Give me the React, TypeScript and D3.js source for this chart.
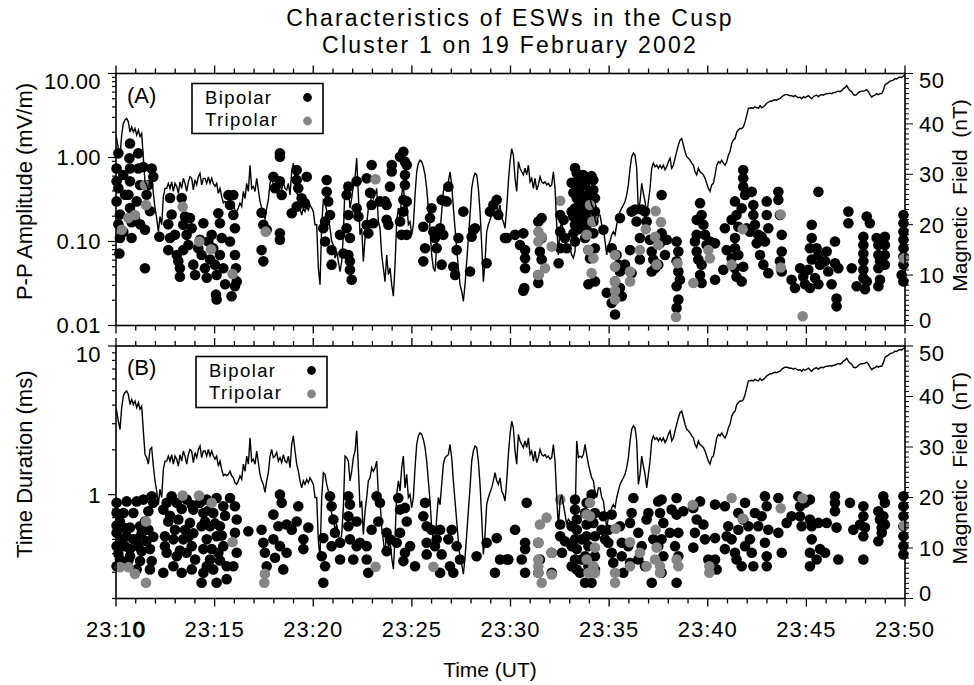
import React from "react";
import * as d3 from "d3";

// ---------- axis labels ----------
const timeTickMinutes = [0, 5, 10, 15, 20, 25, 30, 35, 40]; // minutes after 23:10
const timeTickLabels = ["23:10", "23:15", "23:20", "23:25", "23:30", "23:35", "23:40", "23:45", "23:50"];
const ampTickValues = [10, 1, 0.1, 0.01];
const ampTickLabels = ["10.00", "1.00", "0.10", "0.01"];
const durTickValues = [10, 1];
const durTickLabels = ["10", "1"];
const fieldTickValues = [0, 10, 20, 30, 40, 50];

// ---------- magnetic field (nT), fixed cadence ----------
const fieldStartMin = -0.05;
const fieldCadenceSec = 5.07;
const fieldNT = [
  38.1, 37.1, 35.1, 33.5, 37.8, 40.1, 40.8, 41.1, 40.4, 38.4,
  39.4, 38.4, 39.1, 37.8, 38.8, 37.5, 38.1, 33.2, 28.5, 27.9,
  26.6, 29.5, 29.9, 26.2, 23.3, 21.3, 18.6, 21.6, 20.0, 25.6,
  27.2, 27.2, 28.2, 27.2, 28.5, 26.6, 28.2, 27.6, 26.2, 28.5,
  27.2, 29.2, 28.2, 26.6, 28.5, 29.5, 29.2, 26.9, 28.9, 27.9,
  29.5, 30.2, 27.9, 29.2, 29.2, 28.2, 29.5, 28.2, 29.2, 28.2,
  27.6, 28.2, 26.2, 27.2, 25.6, 24.3, 24.6, 24.3, 24.6, 25.2,
  24.3, 23.9, 22.9, 22.6, 23.3, 24.3, 23.6, 26.6, 25.2, 28.2,
  26.6, 31.8, 27.2, 27.6, 26.6, 29.2, 26.9, 24.6, 23.3, 22.6,
  21.0, 23.3, 24.9, 28.2, 29.5, 27.9, 28.2, 28.9, 27.2, 27.9,
  26.9, 28.5, 27.2, 26.9, 28.2, 25.9, 30.5, 32.2, 29.2, 26.6,
  25.2, 23.3, 21.9, 23.3, 22.6, 23.6, 22.9, 23.9, 23.3, 22.6,
  20.0, 20.0, 11.4, 8.1, 20.0, 24.9, 24.6, 22.6, 21.3, 19.3,
  16.7, 16.0, 13.4, 14.7, 12.7, 10.7, 12.7, 18.0, 28.2, 27.9,
  27.2, 23.3, 25.2, 27.9, 29.2, 33.2, 25.9, 18.0, 19.3, 12.7,
  17.3, 20.0, 23.3, 23.9, 25.9, 25.2, 25.9, 27.2, 20.6, 19.3,
  14.0, 11.4, 8.7, 14.0, 10.1, 11.4, 8.1, 5.8, 12.0, 20.6,
  23.3, 21.3, 25.9, 28.2, 21.9, 24.6, 20.0, 20.6, 18.0, 20.0,
  25.9, 30.5, 32.2, 32.8, 32.5, 31.5, 29.9, 27.2, 23.3, 19.3,
  14.0, 11.4, 10.7, 16.0, 20.0, 18.6, 22.6, 26.6, 27.9, 28.2,
  28.5, 30.5, 27.9, 23.3, 19.3, 15.3, 11.4, 8.1, 6.8, 4.8,
  8.1, 12.7, 17.3, 21.9, 27.2, 29.2, 30.2, 29.9, 27.2, 22.6,
  16.0, 8.7, 12.7, 18.6, 20.0, 21.0, 21.9, 23.3, 24.9, 23.3,
  22.6, 23.9, 21.3, 20.6,
  19.3, 23.3, 28.5, 32.5, 35.1, 33.8, 29.2, 26.6, 32.5, 31.2,
  30.5, 29.9, 31.2, 29.9, 31.8, 28.5, 29.2, 27.2, 29.2, 26.9,
  27.9, 29.5, 28.5, 28.2, 28.5, 27.9, 28.2, 27.6, 27.9, 30.5,
  27.2, 20.0, 14.0, 19.3, 20.6, 18.6, 16.7, 14.7, 15.7, 15.3,
  14.0, 13.4, 14.7, 31.2, 27.9, 28.2, 27.9, 28.5, 30.5, 28.5,
  26.6, 25.2, 23.9, 23.3, 21.0, 20.0, 21.9, 21.9, 20.0, 19.3,
  16.7, 14.0, 16.0, 16.7, 18.0, 18.6, 18.0, 20.0, 21.3, 22.6,
  23.3, 23.9, 24.6, 25.9, 27.9, 31.2, 33.5, 34.2, 33.8, 31.2,
  22.6, 24.6, 28.2, 26.2, 24.6, 21.9, 24.6, 27.2, 31.2, 32.2,
  31.5, 31.8, 31.2, 31.8, 31.2, 31.8, 30.9, 31.5, 32.5, 33.2,
  31.2, 31.8, 33.2, 34.5, 35.8, 36.8, 37.1, 35.8, 34.5, 33.5,
  33.2, 32.8, 32.2, 31.8, 30.5, 29.9, 31.2, 30.5, 30.2, 29.9,
  29.2, 28.2, 27.2, 26.6, 27.9, 28.2, 29.9, 31.8, 32.5, 32.2,
  32.8, 32.2, 31.8, 32.5, 33.8, 34.5, 36.1, 36.8, 37.1, 38.4,
  38.8, 39.1, 39.1, 39.4, 40.4, 41.7, 43.1, 43.1, 43.2, 43.1,
  43.4, 43.2, 43.1, 43.6, 43.2, 43.4, 43.7, 44.1, 44.3, 44.5,
  44.5, 44.7, 44.8, 44.7, 44.9, 45.0, 45.4, 45.6, 45.8, 45.8,
  45.7, 45.6, 45.6, 45.4, 45.6, 45.4, 45.2, 45.3, 45.0, 45.4,
  45.2, 45.4, 45.6, 45.3, 45.0, 45.4, 45.6, 45.7, 45.4, 45.7,
  45.8, 45.7, 45.9, 46.0, 46.0, 46.1, 46.0, 46.2, 46.2, 46.4,
  46.5, 46.4, 46.6, 47.0, 47.2, 47.6, 47.0, 46.6, 46.4, 45.8,
  45.7, 45.8, 46.2, 46.4, 46.5, 46.5, 46.6, 46.8, 46.4, 45.8,
  45.3, 45.6, 45.7, 46.0, 45.8, 46.0, 46.0, 46.7, 47.8, 48.0,
  48.2, 48.5, 48.6, 48.7, 49.0, 48.9, 49.2, 49.3, 49.2, 49.5,
  49.7,
];

// ---------- Panel A: peak-to-peak amplitude (mV/m) [minutes after 23:10, value] ----------
const ampBipolar = [
  [0.12, 1.12], [0.03, 0.74], [0.03, 0.52], [0.12, 0.43], [0.03, 0.30], [0.20, 0.21], [0.12, 0.16], [0.20, 0.11],
  [0.17, 0.072], [0.37, 0.62], [0.46, 0.36], [0.37, 0.13], [0.71, 1.47], [0.68, 0.98], [1.13, 1.12], [0.71, 0.74],
  [0.71, 0.52], [0.63, 0.36], [0.71, 0.25], [0.79, 0.17], [0.79, 0.11], [1.13, 0.74], [1.22, 0.47], [1.05, 0.30],
  [0.96, 0.19], [1.22, 0.16], [1.39, 0.77], [1.81, 0.74], [1.64, 0.47], [1.89, 0.59], [1.55, 0.36], [1.72, 0.23],
  [1.47, 0.138], [1.47, 0.048], [2.20, 0.114], [2.74, 0.33], [2.82, 0.21], [2.65, 0.16], [2.74, 0.11], [2.65, 0.079],
  [2.99, 0.12], [3.08, 0.069], [3.16, 0.058], [3.24, 0.048], [3.24, 0.038], [3.33, 0.33], [3.50, 0.198], [3.41, 0.158],
  [3.58, 0.12], [3.67, 0.091], [3.41, 0.079], [3.75, 0.19], [3.84, 0.144], [3.92, 0.053], [4.01, 0.040], [4.17, 0.083],
  [4.26, 0.105], [4.34, 0.069], [4.43, 0.165], [4.51, 0.048], [4.60, 0.037], [4.77, 0.061], [4.68, 0.10], [4.85, 0.12],
  [4.93, 0.083], [5.02, 0.053], [5.10, 0.040], [5.07, 0.0233], [5.10, 0.0204], [5.19, 0.217], [5.27, 0.165], [5.36, 0.11],
  [5.27, 0.069], [5.44, 0.048], [5.53, 0.031], [5.70, 0.358], [5.95, 0.358], [5.78, 0.272], [5.95, 0.207], [6.03, 0.144],
  [5.78, 0.10], [6.03, 0.069], [6.08, 0.048], [6.12, 0.0335], [6.03, 0.0293], [5.86, 0.0223], [7.38, 0.22], [7.47, 0.158],
  [7.38, 0.079], [7.47, 0.058], [7.64, 0.138], [8.31, 1.12], [8.31, 1.02], [7.98, 0.59], [8.06, 0.43], [8.31, 0.52],
  [8.40, 0.358], [8.31, 0.125], [8.31, 0.105], [8.91, 0.217], [9.16, 0.71], [9.16, 0.54], [9.24, 0.43], [9.41, 0.327],
  [9.58, 0.286], [9.67, 0.59], [9.16, 0.26], [10.68, 0.54], [10.68, 0.39], [10.76, 0.30], [10.85, 0.207], [10.60, 0.173],
  [10.51, 0.144], [10.60, 0.10], [10.93, 0.079], [10.93, 0.053], [11.53, 0.072], [11.36, 0.12], [11.78, 0.45], [11.69, 0.358],
  [11.78, 0.207], [11.69, 0.144], [11.86, 0.11], [11.78, 0.069], [11.86, 0.058], [11.86, 0.046], [11.95, 0.035], [12.20, 0.52],
  [12.29, 0.198], [12.20, 0.249], [12.71, 0.565], [12.88, 0.38], [12.96, 0.815], [12.71, 0.158], [12.79, 0.125], [12.96, 0.272],
  [13.05, 0.165], [13.38, 0.30], [13.64, 0.30], [13.72, 0.181], [13.81, 0.158], [13.98, 0.815], [13.98, 0.68], [13.89, 0.45],
  [13.72, 0.272], [14.40, 0.173], [14.48, 0.12], [14.40, 1.02], [14.57, 1.17], [14.65, 0.89], [14.65, 0.62], [14.74, 0.815],
  [14.65, 0.47], [14.57, 0.313], [14.74, 0.30], [14.57, 0.227], [14.74, 0.12], [15.58, 0.15], [15.67, 0.083], [15.58, 0.058],
  [15.92, 0.19], [16.00, 0.249], [16.09, 0.131], [16.17, 0.11], [16.26, 0.083], [16.43, 0.144], [16.51, 0.053], [16.51, 0.313],
  [16.76, 0.30], [16.85, 0.45], [16.59, 0.12], [17.27, 0.079], [17.36, 0.11], [17.10, 0.050], [17.19, 0.040], [17.61, 0.227],
  [17.95, 0.044], [18.03, 0.114], [18.12, 0.138], [18.20, 0.144], [18.79, 0.055], [18.96, 0.227], [19.13, 0.272], [19.30, 0.313],
  [19.38, 0.207], [19.72, 0.11],
  [19.81, 0.11], [20.23, 0.12], [20.48, 0.091], [20.65, 0.125], [20.74, 0.079], [20.74, 0.063], [20.74, 0.048], [20.70, 0.028],
  [20.65, 0.026], [21.41, 0.173], [21.58, 0.19], [21.58, 0.11], [21.49, 0.076], [21.58, 0.061], [21.41, 0.040], [21.41, 0.032],
  [22.52, 0.207], [22.69, 0.181], [22.52, 0.131], [22.76, 0.11], [22.52, 0.083], [22.44, 0.055], [22.85, 0.083], [23.36, 0.65],
  [23.36, 0.516], [23.36, 0.41], [23.36, 0.327], [23.27, 0.249], [23.19, 0.198], [23.27, 0.158], [23.19, 0.125], [23.27, 0.10],
  [23.52, 0.565], [23.69, 0.62], [23.78, 0.47], [23.86, 0.30], [23.78, 0.227], [23.69, 0.173], [23.86, 0.138], [23.78, 0.11],
  [23.95, 0.079], [24.03, 0.063], [24.20, 0.54], [24.20, 0.41], [24.28, 0.327], [24.28, 0.227], [24.20, 0.173], [24.28, 0.083],
  [24.28, 0.0335], [23.95, 0.031], [23.10, 0.227], [23.52, 0.30], [23.61, 0.158], [23.10, 0.50], [23.19, 0.38], [23.44, 0.45],
  [23.61, 0.36], [23.95, 0.55], [24.03, 0.40], [24.11, 0.26], [23.52, 0.20], [23.86, 0.19], [24.20, 0.125], [23.44, 0.14],
  [24.03, 0.33], [23.69, 0.25], [23.27, 0.75], [24.11, 0.60], [24.71, 0.138], [24.88, 0.0245], [25.13, 0.0185],
  [25.30, 0.0135], [25.13, 0.083], [25.38, 0.069], [25.47, 0.053], [25.30, 0.0335], [25.55, 0.044], [25.55, 0.028], [25.64, 0.0223],
  [25.55, 0.19], [25.80, 0.053], [26.06, 0.079], [26.14, 0.227], [26.31, 0.24], [26.39, 0.173], [26.65, 0.24], [26.56, 0.11],
  [26.56, 0.061], [26.14, 0.042], [26.82, 0.227], [26.90, 0.173], [27.07, 0.105], [27.16, 0.076], [27.24, 0.061], [27.33, 0.048],
  [27.49, 0.053], [27.66, 0.358], [27.58, 0.095], [27.66, 0.125], [27.83, 0.069], [27.92, 0.105], [27.16, 0.044], [28.42, 0.10],
  [28.51, 0.076], [28.42, 0.058], [28.51, 0.044], [28.59, 0.035], [28.42, 0.0293], [28.51, 0.0204], [28.42, 0.0162], [29.44, 0.181],
  [29.44, 0.12], [29.61, 0.286], [29.69, 0.207], [29.78, 0.158], [29.35, 0.10], [29.44, 0.076], [29.69, 0.053], [29.61, 0.040],
  [29.69, 0.032], [29.52, 0.061], [29.86, 0.12], [29.94, 0.091], [30.11, 0.10], [30.37, 0.095], [30.37, 0.035], [30.79, 0.046],
  [30.87, 0.144], [30.96, 0.079], [31.21, 0.181], [31.38, 0.30], [31.46, 0.207], [31.55, 0.15], [31.72, 0.249], [31.80, 0.71],
  [31.80, 0.565], [31.80, 0.45], [31.89, 0.358], [31.38, 0.11], [31.38, 0.083], [31.55, 0.069], [31.21, 0.063], [31.38, 0.048],
  [31.46, 0.038], [31.72, 0.0335], [31.80, 0.050], [32.23, 0.39], [32.31, 0.272], [32.31, 0.207], [32.39, 0.158], [32.56, 0.12],
  [32.48, 0.095], [32.65, 0.069], [32.82, 0.053], [32.90, 0.10], [32.99, 0.30], [32.99, 0.207], [33.07, 0.144], [32.73, 0.114],
  [33.07, 0.042], [31.97, 0.144], [32.14, 0.131], [33.58, 0.39], [33.58, 0.313], [33.66, 0.207], [33.75, 0.12], [33.75, 0.076],
  [33.66, 0.058], [33.75, 0.044], [34.25, 0.035], [34.42, 0.028], [35.61, 0.39], [34.68, 0.048], [34.84, 0.038], [34.93, 0.031],
  [35.10, 0.046], [35.27, 0.158], [35.27, 0.11], [35.18, 0.083], [35.27, 0.061], [35.52, 0.083], [35.61, 0.069], [35.69, 0.053],
  [35.44, 0.0367], [35.61, 0.031], [35.95, 0.058], [36.03, 0.076], [36.11, 0.044], [36.45, 0.10], [36.45, 0.055], [36.28, 0.031],
  [36.53, 0.021], [36.53, 0.0169], [36.62, 0.048], [35.18, 0.028], [37.13, 0.227], [37.13, 0.165], [37.30, 0.048], [37.55, 0.0293],
  [37.89, 0.114], [37.89, 0.091], [37.89, 0.072], [37.89, 0.058], [37.89, 0.046], [37.89, 0.0367], [37.97, 0.027], [38.06, 0.198],
  [38.22, 0.165], [38.06, 0.0335], [38.56, 0.11], [38.65, 0.091], [38.65, 0.069], [38.73, 0.058], [38.65, 0.048], [38.73, 0.035],
  [38.65, 0.0293], [38.98, 0.114], [38.98, 0.091], [38.98, 0.069], [38.98, 0.053], [39.92, 0.207], [39.92, 0.165], [39.92, 0.131],
  [39.92, 0.105], [39.92, 0.083], [39.92, 0.066], [39.92, 0.053], [39.83, 0.040], [39.92, 0.0335],
];

const ampTripolar = [
  [0.29, 0.138], [0.63, 0.19], [0.96, 0.207], [1.47, 0.47], [1.52, 0.272], [3.38, 0.26], [4.22, 0.10], [4.82, 0.081],
  [5.91, 0.041], [7.59, 0.131], [13.16, 0.55], [21.41, 0.131], [21.58, 0.114], [21.41, 0.10], [21.75, 0.048], [21.41, 0.040],
  [22.09, 0.087], [22.52, 0.305], [24.03, 0.272], [24.15, 0.173], [23.86, 0.12], [23.95, 0.079], [24.20, 0.063], [24.11, 0.042],
  [25.30, 0.069], [25.30, 0.050], [25.30, 0.0335], [25.30, 0.026], [25.30, 0.0204], [26.06, 0.044], [26.06, 0.0335], [26.56, 0.079],
  [27.36, 0.23], [27.63, 0.17], [26.86, 0.14], [27.33, 0.114], [27.49, 0.091], [27.41, 0.053], [28.47, 0.055], [28.39, 0.0126],
  [29.27, 0.032], [30.03, 0.079], [30.11, 0.063], [31.21, 0.053], [31.77, 0.14], [33.70, 0.21], [33.70, 0.049], [34.81, 0.0129],
  [39.95, 0.063],
];

// ---------- Panel B: time duration (ms) [minutes after 23:10, value] ----------
const durBipolar = [
  [0.03, 0.88], [0.54, 0.90], [1.05, 0.90], [1.39, 0.926], [1.81, 0.975], [0.37, 0.753], [0.88, 0.753], [1.64, 0.773],
  [0.20, 0.66], [0.71, 0.60], [1.22, 0.613], [0.03, 0.553], [0.54, 0.525], [1.05, 0.50], [1.55, 0.486], [0.20, 0.45],
  [0.71, 0.43], [1.30, 0.416], [1.72, 0.43], [0.20, 0.366], [0.71, 0.385], [1.22, 0.357], [1.81, 0.357], [1.05, 0.314],
  [1.72, 0.314], [0.03, 0.753], [0.03, 0.45], [0.03, 0.33], [0.37, 0.60], [0.46, 0.45], [0.88, 0.50], [1.13, 0.45],
  [1.47, 0.66], [0.29, 0.50], [0.63, 0.36], [1.30, 0.55], [1.64, 0.58], [0.03, 0.62], [0.12, 0.40], [1.89, 0.52],
  [1.89, 0.88], [2.40, 0.793], [2.82, 0.975], [3.08, 0.88], [3.58, 0.926],
  [3.92, 0.793], [2.65, 0.66], [3.16, 0.68], [3.75, 0.645], [2.48, 0.525], [2.91, 0.50], [3.41, 0.50], [3.84, 0.45],
  [2.57, 0.406], [3.08, 0.385], [3.58, 0.406], [4.01, 0.366], [2.40, 0.298], [2.91, 0.33], [3.33, 0.298], [3.84, 0.314],
  [2.57, 0.88], [2.74, 0.72], [3.33, 0.80], [3.50, 0.58], [3.67, 0.52], [2.99, 0.58], [3.84, 0.85], [2.48, 0.45],
  [3.24, 0.42], [3.92, 0.55], [4.51, 0.66], [4.68, 0.78], [5.02, 0.64], [5.36, 0.53], [4.85, 0.43], [5.27, 0.36],
  [4.60, 0.33], [5.53, 0.72], [5.78, 0.95],
  [4.26, 0.88], [4.60, 0.926], [5.10, 0.95], [4.43, 0.753], [4.93, 0.753], [5.44, 0.835], [4.34, 0.613], [4.77, 0.613],
  [5.27, 0.613], [4.60, 0.50], [5.10, 0.525], [5.44, 0.45], [4.43, 0.43], [4.77, 0.366], [5.19, 0.406], [4.43, 0.298],
  [4.93, 0.314], [5.61, 0.33], [4.34, 0.255], [5.10, 0.255], [5.61, 0.27], [6.03, 0.835], [6.12, 0.68], [6.03, 0.553],
  [6.12, 0.406], [5.95, 0.33], [6.71, 0.567], [7.38, 0.58], [7.47, 0.474], [7.55, 0.406], [7.64, 0.33], [8.31, 1.0],
  [8.40, 0.88], [7.98, 0.734], [8.23, 0.613], [8.65, 0.63], [7.98, 0.50], [8.31, 0.45], [8.06, 0.376], [8.48, 0.314],
  [8.91, 0.58], [9.24, 0.835], [9.16, 0.66], [9.50, 0.50], [9.75, 0.60], [9.50, 0.43], [8.65, 0.406], [10.51, 0.51],
  [10.43, 0.385], [10.60, 0.33], [10.51, 0.255], [10.85, 0.975], [10.93, 0.835], [11.02, 0.68], [11.10, 0.553], [10.93, 0.45],
  [11.36, 0.366], [11.36, 0.474], [11.78, 0.975], [11.86, 0.857], [11.78, 0.715], [12.20, 0.66], [11.78, 0.613], [11.86, 0.50],
  [12.20, 0.45], [12.03, 0.366], [12.71, 0.45], [12.71, 0.366], [12.79, 0.298], [12.37, 0.474], [13.21, 0.975], [13.38, 0.88],
  [13.30, 0.66], [12.96, 0.58], [13.72, 0.553], [13.89, 0.50], [13.72, 0.416], [14.31, 0.95], [14.40, 0.793], [14.65, 0.814],
  [14.74, 0.66], [14.40, 0.553], [14.23, 0.474], [14.65, 0.406], [14.57, 0.357], [14.91, 0.45], [15.16, 0.33], [15.67, 0.88],
  [15.58, 0.715], [15.75, 0.613], [16.00, 0.58], [16.17, 0.45], [15.75, 0.474], [16.43, 0.58], [16.26, 0.50], [16.51, 0.396],
  [17.02, 0.58], [16.85, 0.50], [17.27, 0.45], [17.44, 0.366], [16.93, 0.33], [16.43, 0.298], [17.10, 0.298], [15.75, 0.396],
  [18.28, 0.385], [18.79, 0.474], [19.30, 0.51], [19.47, 0.366], [19.21, 0.298], [19.81, 0.366],
  [19.89, 0.366], [20.23, 0.58], [20.57, 0.366], [20.74, 0.474], [20.74, 0.43], [20.74, 0.298], [20.82, 0.88], [21.41, 0.474],
  [21.49, 0.366], [21.41, 0.298], [22.09, 0.298], [22.09, 0.406], [22.52, 0.63], [22.52, 0.525], [22.76, 0.486], [22.61, 0.406],
  [23.27, 0.926], [23.27, 0.793], [23.36, 0.68], [23.36, 0.58], [23.27, 0.50], [23.36, 0.43], [23.27, 0.366], [23.36, 0.314],
  [23.52, 0.298], [23.78, 0.255], [23.86, 0.88], [23.78, 0.753], [23.86, 0.63], [23.86, 0.525], [23.95, 0.45], [23.78, 0.385],
  [23.95, 0.33], [24.11, 1.0], [24.28, 0.753], [24.20, 0.645], [24.28, 0.525], [24.28, 0.385], [24.28, 0.314], [24.11, 0.255],
  [24.71, 0.715], [24.62, 0.58], [24.79, 0.50], [23.10, 0.613], [23.10, 0.45], [23.10, 0.33], [23.61, 0.50], [23.61, 0.366],
  [25.13, 0.734], [24.96, 0.58], [24.96, 0.474], [25.13, 0.406], [25.21, 0.348], [25.55, 0.613], [25.64, 0.474], [25.64, 0.385],
  [25.72, 0.298], [26.06, 0.645], [26.14, 0.753], [26.23, 0.95], [25.97, 0.45], [26.06, 0.348], [26.48, 0.553], [26.65, 0.45],
  [26.48, 0.366], [26.82, 0.33], [26.90, 0.68], [26.99, 0.753], [27.24, 0.50], [27.49, 0.45], [27.49, 0.90], [27.66, 0.926],
  [27.58, 0.753], [27.75, 0.645], [27.66, 0.50], [27.75, 0.385], [27.66, 0.298], [27.16, 0.255], [28.17, 0.793], [28.42, 0.95],
  [28.42, 0.734], [28.51, 0.553], [28.34, 0.45], [28.08, 0.553], [28.51, 0.385], [28.42, 0.255], [28.76, 0.773], [29.27, 0.814],
  [29.61, 0.90], [29.44, 0.68], [29.35, 0.553], [29.27, 0.44], [29.78, 0.63], [29.86, 0.50], [30.03, 0.366], [30.37, 0.366],
  [30.45, 0.314], [30.37, 0.857], [30.37, 0.51], [30.87, 0.835], [31.04, 0.613], [30.96, 0.525], [30.87, 0.43], [31.21, 0.50],
  [31.38, 0.406], [31.46, 0.366], [31.55, 0.753], [31.89, 0.88], [31.80, 0.68], [32.06, 0.613], [32.14, 0.50], [31.89, 0.45],
  [31.72, 0.33], [32.31, 0.33], [32.39, 0.753], [32.56, 0.613], [32.90, 0.975], [32.99, 0.835], [32.73, 0.715], [33.07, 0.58],
  [32.90, 0.474], [32.99, 0.385], [32.99, 0.33], [32.23, 0.406], [31.55, 0.58], [33.58, 0.95], [33.58, 0.553], [33.75, 0.406],
  [34.00, 0.645], [34.25, 0.715], [34.59, 0.975], [34.68, 0.835], [34.68, 0.715], [34.76, 0.613], [34.93, 0.88], [35.18, 0.926],
  [35.18, 0.68], [35.27, 0.613], [35.27, 0.50], [35.18, 0.406], [35.18, 0.33], [35.61, 0.645], [35.69, 0.43], [35.52, 0.366],
  [35.95, 0.406], [36.03, 0.645], [36.45, 0.975], [36.45, 0.88], [36.45, 0.773], [36.53, 0.60], [36.62, 0.366], [37.21, 0.88],
  [37.38, 0.58], [37.72, 0.63], [37.89, 0.835], [37.89, 0.715], [37.89, 0.525], [37.89, 0.366], [37.97, 0.60], [38.65, 0.773],
  [38.73, 0.68], [38.82, 0.60], [38.82, 0.553], [38.65, 0.486], [38.90, 0.975], [38.98, 0.88], [38.90, 0.715], [38.98, 0.63],
  [39.92, 0.975], [39.92, 0.835], [39.92, 0.715], [39.92, 0.613], [39.92, 0.525], [39.92, 0.45], [39.92, 0.396],
];

const durTripolar = [
  [0.20, 0.325], [0.63, 0.325], [0.96, 0.293], [1.52, 0.255], [1.52, 0.66], [3.38, 0.985], [4.21, 0.985], [4.85, 0.88],
  [5.91, 0.48], [7.55, 0.293], [7.52, 0.255], [13.16, 0.327], [16.09, 0.327], [21.83, 0.70], [21.49, 0.63], [21.41, 0.474],
  [21.41, 0.366], [21.41, 0.33], [21.41, 0.298], [21.58, 0.255], [22.09, 0.406], [22.09, 0.29], [22.52, 0.926], [24.03, 0.88],
  [23.86, 0.734], [24.03, 0.715], [24.28, 0.44], [23.86, 0.366], [24.20, 0.33], [24.28, 0.298], [23.95, 0.298], [25.33, 0.59],
  [26.06, 0.478], [26.06, 0.33], [25.30, 0.298], [25.30, 0.255], [26.56, 0.406], [26.90, 0.33], [27.36, 0.58], [27.41, 0.44],
  [27.33, 0.366], [27.58, 0.33], [27.58, 0.298], [28.42, 0.366], [28.51, 0.33], [29.24, 0.85], [30.08, 0.33], [30.08, 0.298],
  [31.21, 0.95], [31.77, 0.69], [33.70, 0.81], [34.81, 0.945], [39.95, 0.62],
];

const FONT = "'Liberation Sans', Arial, Helvetica, sans-serif";
const BLACK = "#000";
const GRAY = "#858585";

type PanelProps = {
  id: string;
  top: number;
  bottom: number;
  yDomain: [number, number];
  yTicks: number[];
  yTickLabels: string[];
  bip: number[][];
  tri: number[][];
  yTitle: string;
  tag: string;
  tagY: number;
  legend: { x: number; y: number; w: number; h: number };
  showTimeLabels: boolean;
};

const left = 116;
const right = 905;
const x = d3.scaleLinear().domain([0, 40]).range([left, right]);

function Panel(p: PanelProps) {
  const y = d3.scaleLog().domain(p.yDomain).range([p.bottom, p.top]);
  const b = d3.scaleLinear().domain([0, 50]).range([p.bottom, p.top]);
  const minuteTicks = d3.range(0, 41);
  const logTicks = y.ticks();
  const fieldMinor = b.ticks(50);
  const isDecade = (v: number) => Math.abs(Math.log10(v) - Math.round(Math.log10(v))) < 1e-6;

  const fieldPts = fieldNT.map((v, i) => [fieldStartMin + (i * fieldCadenceSec) / 60, v] as [number, number]);
  const line = d3
    .line<[number, number]>()
    .x((d) => x(d[0]))
    .y((d) => b(d[1]));

  const mid = (p.top + p.bottom) / 2;
  const lg = p.legend;
  return (
    <g>
      <defs>
        <clipPath id={"clip" + p.id}>
          <rect x={left} y={p.top} width={right - left} height={p.bottom - p.top} />
        </clipPath>
      </defs>
      {p.bip.map((d, i) => (
        <circle key={"b" + i} cx={x(d[0])} cy={y(d[1])} r={5.3} fill={BLACK} />
      ))}
      {p.tri.map((d, i) => (
        <circle key={"t" + i} cx={x(d[0])} cy={y(d[1])} r={5.3} fill={GRAY} />
      ))}
      <path d={line(fieldPts) || ""} fill="none" stroke={BLACK} strokeWidth={1.4} clipPath={`url(#clip${p.id})`} />
      <rect x={left} y={p.top} width={right - left} height={p.bottom - p.top} fill="none" stroke={BLACK} strokeWidth={1.6} />
      {minuteTicks.map((m) => {
        const len = m % 5 === 0 ? 8 : 5;
        return (
          <g key={"xt" + m}>
            <line x1={x(m)} x2={x(m)} y1={p.top} y2={p.top - len} stroke={BLACK} strokeWidth={1.3} />
            <line x1={x(m)} x2={x(m)} y1={p.bottom} y2={p.bottom + len} stroke={BLACK} strokeWidth={1.3} />
          </g>
        );
      })}
      {logTicks.map((v, i) => {
        const len = isDecade(v) ? 8 : 4;
        return <line key={"ly" + i} x1={left} x2={left - len} y1={y(v)} y2={y(v)} stroke={BLACK} strokeWidth={1.2} />;
      })}
      {p.yTicks.map((v, i) => {
        let dy = 0;
        if (Math.abs(y(v) - p.top) < 1) dy = 8;
        return (
          <text key={"yl" + i} x={101} y={y(v) + dy} dy="0.36em" textAnchor="end" fontSize={22} fontFamily={FONT} letterSpacing={0.4}>
            {p.yTickLabels[i]}
          </text>
        );
      })}
      {fieldMinor.map((v) => {
        const len = v % 10 === 0 ? 8 : 4;
        return <line key={"ry" + v} x1={right} x2={right + len} y1={b(v)} y2={b(v)} stroke={BLACK} strokeWidth={1} />;
      })}
      {fieldTickValues.map((v) => {
        let dy = 0;
        if (v === 50) dy = 7;
        if (v === 0) dy = -5;
        return (
          <text key={"rl" + v} x={919} y={b(v) + dy} dy="0.36em" textAnchor="start" fontSize={22} fontFamily={FONT} letterSpacing={0.6}>
            {v}
          </text>
        );
      })}
      <text transform={`translate(32,${mid - 8}) rotate(-90)`} textAnchor="middle" fontSize={22} fontFamily={FONT}>
        {p.yTitle}
      </text>
      <text
        transform={`translate(967,${mid - 4}) rotate(-90)`}
        textAnchor="middle"
        fontSize={21}
        fontFamily={FONT}
        style={{ whiteSpace: "pre" }}
      >
        {"Magnetic  Field  (nT)"}
      </text>
      <text x={127} y={p.tagY} fontSize={22} fontFamily={FONT}>
        {p.tag}
      </text>
      <rect x={lg.x} y={lg.y} width={lg.w} height={lg.h} fill="#fff" stroke={BLACK} strokeWidth={1.6} />
      <text x={lg.x + 13} y={lg.y + 20} fontSize={18.5} fontFamily={FONT} letterSpacing={1.4}>
        Bipolar
      </text>
      <text x={lg.x + 13} y={lg.y + 42} fontSize={18.5} fontFamily={FONT} letterSpacing={1.4}>
        Tripolar
      </text>
      <circle cx={lg.x + lg.w - 15.5} cy={lg.y + 14} r={4.4} fill={BLACK} />
      <circle cx={lg.x + lg.w - 15.5} cy={lg.y + 37.5} r={4.4} fill={GRAY} />
      {p.showTimeLabels &&
        timeTickMinutes.map((m, i) => (
          <text key={"tl" + m} x={x(m)} y={637} textAnchor="middle" fontSize={22} fontFamily={FONT} letterSpacing={1}>
            {i === 0 ? (
              <>
                23:1
                <tspan stroke={BLACK} strokeWidth={1}>0</tspan>
              </>
            ) : (
              timeTickLabels[i]
            )}
          </text>
        ))}
    </g>
  );
}

export default function App() {
  return (
    <svg
      width={974}
      height={685}
      viewBox="0 0 974 685"
      style={{ position: "absolute", left: 0, top: 0, background: "#fff" }}
    >
      <rect width={974} height={685} fill="#fff" />
      <text x={510} y={26} textAnchor="middle" fontSize={23} fontFamily={FONT} letterSpacing={2.2}>
        Characteristics of ESWs in the Cusp
      </text>
      <text x={510} y={53} textAnchor="middle" fontSize={23} fontFamily={FONT} letterSpacing={2.2}>
        Cluster 1 on 19 February 2002
      </text>
      <Panel
        id="A"
        top={73.5}
        bottom={325.5}
        yDomain={[0.01, 10]}
        yTicks={ampTickValues}
        yTickLabels={ampTickLabels}
        bip={ampBipolar}
        tri={ampTripolar}
        yTitle="P-P Amplitude (mV/m)"
        tag="(A)"
        tagY={103}
        legend={{ x: 192, y: 83.5, w: 131, h: 50 }}
        showTimeLabels={false}
      />
      <Panel
        id="B"
        top={346}
        bottom={598.5}
        yDomain={[0.2, 10]}
        yTicks={durTickValues}
        yTickLabels={durTickLabels}
        bip={durBipolar}
        tri={durTripolar}
        yTitle="Time Duration (ms)"
        tag="(B)"
        tagY={375}
        legend={{ x: 196, y: 356.5, w: 131, h: 51 }}
        showTimeLabels={true}
      />
      <text x={490} y={677} textAnchor="middle" fontSize={21} fontFamily={FONT}>
        Time (UT)
      </text>
    </svg>
  );
}
